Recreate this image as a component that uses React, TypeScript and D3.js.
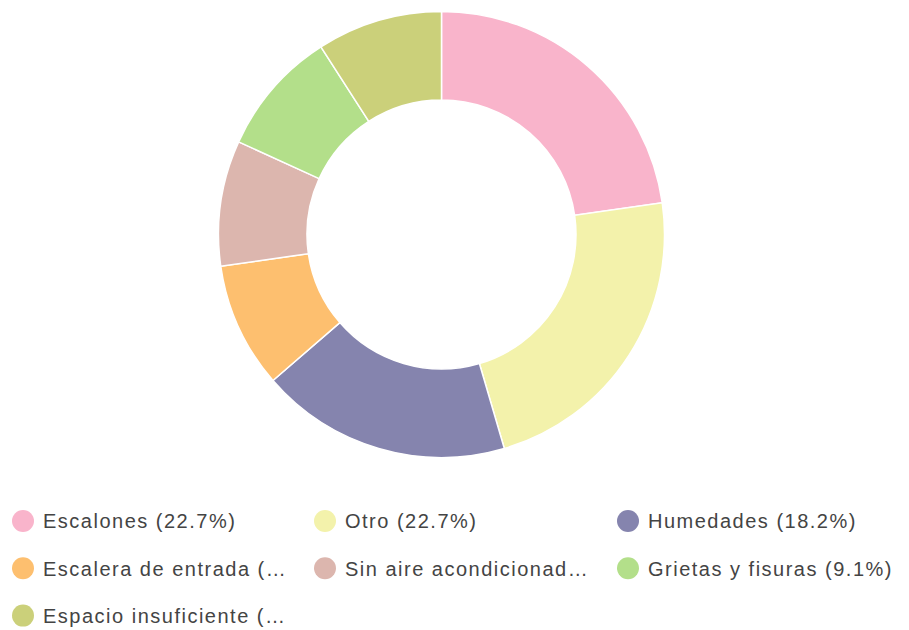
import React from "react";
import * as d3 from "d3";

const categories = [
  "Escalones",
  "Otro",
  "Humedades",
  "Escalera de entrada",
  "Sin aire acondicionado",
  "Grietas y fisuras",
  "Espacio insuficiente",
];
const values = [5, 5, 4, 2, 2, 2, 2];
const legendLabels = [
  "Escalones (22.7%)",
  "Otro (22.7%)",
  "Humedades (18.2%)",
  "Escalera de entrada (…",
  "Sin aire acondicionad…",
  "Grietas y fisuras (9.1%)",
  "Espacio insuficiente (…",
];
const colors = ["#f9b4cb", "#f3f2ab", "#8584ae", "#fdbf6f", "#dcb6ae", "#b3df8a", "#cbd07a"];

export default function App() {
  const W = 909;
  const H = 630;
  const cx = 441.5;
  const cy = 234.5;
  const outerR = 223;
  const innerR = 134.5;

  const data = categories.map((c, i) => ({ name: c, value: values[i], color: colors[i] }));
  const pie = d3.pie<any>().value((d: any) => d.value).sort(null);
  const arcs = pie(data);
  const arcGen = d3.arc<any>().innerRadius(innerR).outerRadius(outerR);

  const colX = d3.scaleOrdinal<number, number>().domain([0, 1, 2]).range([23, 325, 628]);
  const rowY = d3.scaleLinear().domain([0, 1]).range([521, 568.3]);

  return (
    <svg width={W} height={H} style={{ position: "absolute", left: 0, top: 0 }}>
      <rect width={W} height={H} fill="#fff" />
      <g transform={`translate(${cx},${cy})`}>
        {arcs.map((a, i) => (
          <path key={i} d={arcGen(a) as string} fill={a.data.color} stroke="#fff" strokeWidth={1.5} />
        ))}
      </g>
      {legendLabels.map((l, i) => {
        const col = i % 3;
        const row = Math.floor(i / 3);
        const x = colX(col);
        const y = rowY(row);
        return (
          <g key={i}>
            <circle cx={x} cy={y} r={11} fill={colors[i]} />
            <text
              x={x + 20}
              y={y}
              dy="0.36em"
              fontFamily="'Liberation Sans', Arial, sans-serif"
              fontSize={20}
              letterSpacing={1.5}
              fill="#444"
            >
              {l}
            </text>
          </g>
        );
      })}
    </svg>
  );
}
